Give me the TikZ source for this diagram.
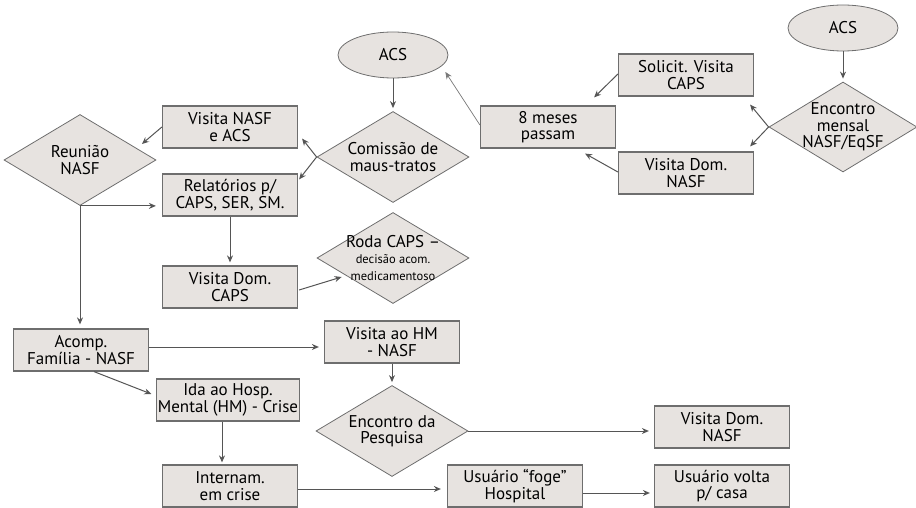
\documentclass[tikz,border=0pt]{standalone}
\usepackage{fontspec}
\setmainfont{PT Sans}
\usepackage{tikz}
\usetikzlibrary{shapes.geometric, arrows.meta, positioning, calc}
\definecolor{boxfill}{RGB}{231,227,224}
\definecolor{boxline}{RGB}{110,110,110}
\definecolor{arrgray}{RGB}{85,85,85}

\begin{document}
\begin{tikzpicture}[x=1pt, y=-1pt,
  box/.style={rectangle, draw=boxline, fill=boxfill, line width=1.2pt,
              font=\fontsize{17}{16.5}\selectfont, align=center,
              minimum width=135pt, minimum height=42pt, inner sep=1pt},
  dia/.style={diamond, draw=boxline, fill=boxfill, line width=0.8pt,
              font=\fontsize{17}{16.5}\selectfont, align=center, aspect=1.66,
              minimum width=152pt, minimum height=91pt, inner sep=0pt},
  oval/.style={ellipse, draw=boxline, fill=boxfill, line width=0.8pt,
               font=\fontsize{17}{16.5}\selectfont,
               minimum width=110pt, minimum height=46pt},
  arr/.style={-{Stealth[length=7pt, width=6pt]}, line width=1pt, arrgray},
]
  \useasboundingbox (0,0) rectangle (916,508);

  % left part
  \node[oval] (acs1)   at (393,55)  {ACS};
  \node[dia]  (com)    at (393,157) {Comissão de\\maus-tratos};
  \node[box]  (vna)    at (230,127) {Visita NASF\\e ACS};
  \node[dia]  (reu)    at (80,160)  {Reunião\\NASF};
  \node[box]  (rel)    at (230,195) {Relatórios p/\\CAPS, SER, SM.};
  \node[dia, inner sep=-10pt] (roda) at (393,258) {Roda CAPS –\\{\fontsize{12.5}{13}\selectfont decisão acom.}\\{\fontsize{12.5}{13}\selectfont medicamentoso}};
  \node[box]  (vdc)    at (230,287) {Visita Dom.\\CAPS};
  \node[box]  (acomp)  at (81,350)  {Acomp.\\Família - NASF};
  \node[box, minimum width=140pt] (ida) at (228,400) {Ida ao Hosp.\\Mental (HM) - Crise};
  \node[box]  (intern) at (230,486) {Internam.\\em crise};
  \node[box]  (vhm)    at (392,342) {Visita ao HM\\- NASF};
  \node[dia]  (enc)    at (392,431) {Encontro da\\Pesquisa};
  \node[box]  (foge)   at (515,486) {Usuário “foge”\\Hospital};
  \node[box]  (vdn2)   at (722,427) {Visita Dom.\\NASF};
  \node[box]  (volta)  at (722,486) {Usuário volta\\p/ casa};

  % right part
  \node[box]  (meses)  at (548,127) {8 meses\\passam};
  \node[box]  (sol)    at (686,75)  {Solicit. Visita\\CAPS};
  \node[box]  (vdn1)   at (686,173) {Visita Dom.\\NASF};
  \node[oval] (acs2)   at (843,28)  {ACS};
  \node[dia, minimum width=148pt, minimum height=90pt, inner sep=-12pt] (mensal) at (843,127) {Encontro\\mensal\\NASF/EqSF};

  \draw[arr, shorten >=3pt] (acs1) -- (com);
  \draw[arr] (com.west) -- ($(vna.south east)+(4,-10)$);
  \draw[arr] (com.west) -- ($(rel.north east)+(1,6)$);
  \draw[arr] (vna.west) -- ($(vna.west)+(-20,17)$);
  \draw[arr] (reu.south) -- ([xshift=-6pt]rel.west |- reu.south);
  \draw[arr, shorten >=4pt] (reu.south) -- (reu.south |- acomp.north);
  \draw[arr, shorten >=3pt] (rel.south) -- (rel.south |- vdc.north);
  \draw[arr] ($(vdc.east)+(1,3)$) -- ($(roda.west)+(25,19)$);
  \draw[arr] ([yshift=3pt]acomp.east) -- ([xshift=-5pt]vhm.west |- 0,347);
  \draw[arr] ($(acomp.south)+(13,0)$) -- ($(ida.west)+(-5,-6)$);
  \draw[arr, shorten >=2pt] ([xshift=-6pt]ida.south) -- ([xshift=-6pt]ida.south |- intern.north);
  \draw[arr] ([yshift=-3pt]intern.east) -- ([xshift=-6pt]foge.west |- 0,489);
  \draw[arr] ([yshift=-7pt]foge.east) -- ([xshift=-4pt]volta.west |- 0,493);
  \draw[arr, shorten >=3pt] (vhm.south) -- (enc.north);
  \draw[arr] (enc.east) -- ([xshift=-5pt]vdn2.west |- enc.east);

  \draw[arr, shorten >=3pt] (acs2) -- (mensal);
  \draw[arr] (mensal.west) -- ($(sol.south east)+(-4,8)$);
  \draw[arr] (mensal.west) -- ($(vdn1.north east)+(-4,-5)$);
  \draw[arr] ([yshift=1pt]sol.west) -- ($(meses.north east)+(-22,-8)$);
  \draw[arr] ([yshift=1pt]vdn1.west) -- ($(meses.south east)+(-31,5)$);
  \draw[arr, line width=0.7pt, arrgray!80] ([yshift=2pt]meses.west) -- ($(acs1.east)+(-3,17)$);
\end{tikzpicture}
\end{document}
